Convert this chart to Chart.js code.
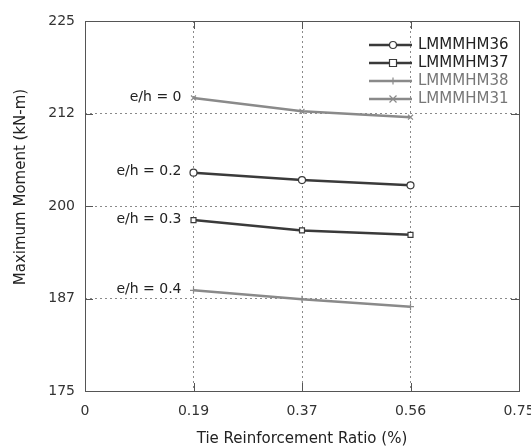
<!DOCTYPE html>
<html>
<head>
<meta charset="utf-8">
<script src="https://cdn.jsdelivr.net/npm/chart.js@4"></script>
<style>
  html, body { margin: 0; padding: 0; background: #fff; }
  #wrap { width: 531px; height: 448px; }
</style>
</head>
<body>
<div id="wrap"><canvas id="moment-chart" width="531" height="448"></canvas></div>
<script>
// tie ratio steps (points sit on the grid lines)
const tieRatios = [0.1875, 0.375, 0.5625];
const xTickLabels = ['0', '0.19', '0.37', '0.56', '0.75'];
const yTickLabels = ['175', '187', '200', '212', '225'];

const seriesNames = ['LMMMHM36', 'LMMMHM37', 'LMMMHM38', 'LMMMHM31'];
const eccLabels = ['e/h = 0.2', 'e/h = 0.3', 'e/h = 0.4', 'e/h = 0'];

// maximum moment (kN-m)
const momentHM36 = [204.5, 203.5, 202.8];
const momentHM37 = [198.1, 196.7, 196.1];
const momentHM38 = [188.6, 187.4, 186.4];
const momentHM31 = [214.6, 212.8, 212.0];

const FONT = 'DejaVu Sans';
const DARK = '#3a3a3a';
const LIGHT = '#8a8a8a';

function toPoints(values) {
    return tieRatios.map((x, i) => ({ x: x, y: values[i] }));
}

function makeDataset(label, values, color, style) {
    return {
        label: label,
        data: toPoints(values),
        borderColor: color,
        backgroundColor: '#fff',
        borderWidth: 2.5,
        pointStyle: style,
        pointRadius: 3.5,
        pointBorderWidth: 1.2,
        pointBorderColor: color,
        pointBackgroundColor: '#fff',
        tension: 0
    };
}

// simple marker for the legend rows
function drawMarker(ctx, style, x, y, r) {
    ctx.beginPath();
    if (style === 'circle') {
        ctx.arc(x, y, r, 0, Math.PI * 2);
        ctx.fill();
    } else if (style === 'rect') {
        ctx.rect(x - r, y - r, 2 * r, 2 * r);
        ctx.fill();
    } else if (style === 'cross') {
        ctx.moveTo(x - r, y); ctx.lineTo(x + r, y);
        ctx.moveTo(x, y - r); ctx.lineTo(x, y + r);
    } else {
        ctx.moveTo(x - r, y - r); ctx.lineTo(x + r, y + r);
        ctx.moveTo(x - r, y + r); ctx.lineTo(x + r, y - r);
    }
    ctx.stroke();
}

const framePlugin = {
    id: 'frame',
    beforeDatasetsDraw(chart) {
        const { ctx, chartArea: a, scales } = chart;
        ctx.save();
        ctx.strokeStyle = '#555';
        ctx.lineWidth = 1;
        ctx.strokeRect(a.left + 0.5, a.top + 0.5, a.right - a.left, a.bottom - a.top);
        // short inward ticks on all four sides
        const len = 8;
        ctx.beginPath();
        scales.y.ticks.forEach((t, i) => {
            if (i === 0 || i === scales.y.ticks.length - 1) return;
            const py = Math.round(scales.y.getPixelForValue(t.value)) + 0.5;
            ctx.moveTo(a.left, py); ctx.lineTo(a.left + len, py);
            ctx.moveTo(a.right - len, py); ctx.lineTo(a.right, py);
        });
        scales.x.ticks.forEach((t, i) => {
            if (i === 0 || i === scales.x.ticks.length - 1) return;
            const px = Math.round(scales.x.getPixelForValue(t.value)) + 0.5;
            ctx.moveTo(px, a.bottom); ctx.lineTo(px, a.bottom - len);
            ctx.moveTo(px, a.top); ctx.lineTo(px, a.top + len);
        });
        ctx.stroke();
        ctx.restore();
    },
    afterDraw(chart) {
        const { ctx, scales } = chart;
        ctx.save();

        // e/h labels next to the first point of each line
        ctx.font = '14px "' + FONT + '"';
        ctx.fillStyle = '#222';
        ctx.textAlign = 'right';
        ctx.textBaseline = 'middle';
        chart.data.datasets.forEach((ds, i) => {
            const p = ds.data[0];
            const px = scales.x.getPixelForValue(p.x);
            const py = scales.y.getPixelForValue(p.y);
            ctx.fillText(eccLabels[i], px - 12, py - 1);
        });

        // legend inside the plot, top right
        ctx.font = '15px "' + FONT + '"';
        ctx.textAlign = 'left';
        chart.data.datasets.forEach((ds, i) => {
            const y = 45 + i * 18;
            ctx.strokeStyle = ds.borderColor;
            ctx.lineWidth = 2.5;
            ctx.beginPath();
            ctx.moveTo(369, y); ctx.lineTo(412, y);
            ctx.stroke();
            ctx.lineWidth = 1.2;
            ctx.fillStyle = '#fff';
            drawMarker(ctx, ds.pointStyle, 393, y, 3.5);
            ctx.fillStyle = i < 2 ? '#222' : '#777';
            ctx.fillText(ds.label, 418, y);
        });

        // y axis title
        ctx.translate(21, 187);
        ctx.rotate(-Math.PI / 2);
        ctx.textAlign = 'center';
        ctx.fillStyle = '#222';
        ctx.font = '15px "' + FONT + '"';
        ctx.fillText('Maximum Moment (kN-m)', 0, 0);
        ctx.restore();
    }
};

const gridColor = (c) => (c.index === 0 || c.index === 4) ? 'rgba(0,0,0,0)' : '#8a8a8a';

const chart = new Chart(document.getElementById('moment-chart'), {
    type: 'line',
    data: {
        datasets: [
            makeDataset(seriesNames[0], momentHM36, DARK, 'circle'),
            makeDataset(seriesNames[1], momentHM37, DARK, 'rect'),
            makeDataset(seriesNames[2], momentHM38, LIGHT, 'cross'),
            makeDataset(seriesNames[3], momentHM31, LIGHT, 'crossRot')
        ]
    },
    options: {
        responsive: false,
        animation: false,
        layout: { padding: { top: 21, right: 12, left: 0, bottom: 0 } },
        plugins: {
            legend: { display: false },
            tooltip: { enabled: false }
        },
        scales: {
            x: {
                type: 'linear',
                min: 0,
                max: 0.75,
                afterFit: (s) => {
                    s.height = 57;
                    s.paddingLeft = 0;
                    s.paddingRight = 0;
                },
                ticks: {
                    stepSize: 0.1875,
                    autoSkip: false,
                    maxRotation: 0,
                    padding: 12,
                    color: '#333',
                    font: { family: FONT, size: 14 },
                    callback: (v, i) => xTickLabels[i]
                },
                grid: { color: gridColor, lineWidth: 1, drawTicks: false },
                border: { display: false, dash: [2, 3] },
                title: {
                    display: true,
                    text: 'Tie Reinforcement Ratio (%)',
                    color: '#222',
                    padding: 0,
                    font: { family: FONT, size: 15 }
                }
            },
            y: {
                min: 175,
                max: 225,
                afterFit: (s) => {
                    s.width = 85;
                    s.paddingTop = 0;
                    s.paddingBottom = 0;
                },
                ticks: {
                    stepSize: 12.5,
                    autoSkip: false,
                    padding: 10,
                    color: '#333',
                    font: { family: FONT, size: 14 },
                    callback: (v, i) => yTickLabels[i]
                },
                grid: { color: gridColor, lineWidth: 1, drawTicks: false },
                border: { display: false, dash: [2, 3] }
            }
        }
    },
    plugins: [framePlugin]
});
</script>
</body>
</html>
